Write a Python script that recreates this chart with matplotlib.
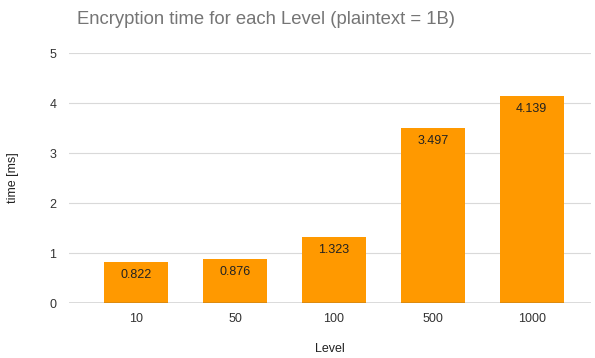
import matplotlib
matplotlib.use("Agg")
import matplotlib.pyplot as plt
import numpy as np

levels = ["10", "50", "100", "500", "1000"]
times_ms = [0.822, 0.876, 1.323, 3.497, 4.139]
yticks = [0, 1, 2, 3, 4, 5]

plt.rcParams["font.family"] = ["Liberation Sans", "DejaVu Sans"]

fig = plt.figure(figsize=(5.95, 3.58), dpi=100)
ax = fig.add_axes([69 / 595, 1 - 303 / 358, 522 / 595, 250 / 358])

x = np.arange(len(levels))
bars = ax.bar(x, times_ms, width=0.65, color="#ff9900", zorder=3)
for rect, v in zip(bars, times_ms):
    ax.text(rect.get_x() + rect.get_width() / 2, v - 0.26, f"{v:.3f}",
            ha="center", va="center", fontsize=9, color="#222222", zorder=4)

ax.set_xlim(-0.68, 4.6)
ax.set_ylim(0, 5)
ax.set_yticks(yticks)
ax.set_xticks(x)
ax.set_xticklabels(levels)
ax.yaxis.grid(True, color="#d9d9d9", linewidth=0.8, zorder=0)
ax.axhline(0, color="#555555", linewidth=1, zorder=5)
for s in ax.spines.values():
    s.set_visible(False)
ax.tick_params(axis="both", length=0, labelsize=9, colors="#333333")
ax.tick_params(axis="y", pad=9)
ax.tick_params(axis="x", pad=7)

ax.set_xlabel("Level", fontsize=9, color="#222222", labelpad=13)
ax.set_ylabel("time [ms]", fontsize=9, color="#222222", labelpad=22)

fig.text(266 / 595, 1 - 20 / 358, "Encryption time for each Level (plaintext = 1B)",
         ha="center", va="center", fontsize=13.3, color="#757575")

fig.savefig("out.png", dpi=100)
